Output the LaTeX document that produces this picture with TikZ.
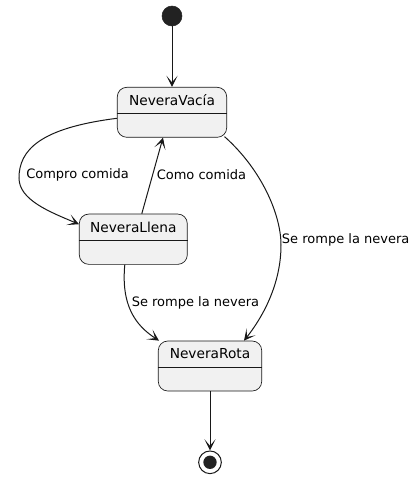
\documentclass[tikz,border=0pt]{standalone}
\usepackage{fontspec}
\setmainfont{DejaVu Sans}
\usetikzlibrary{arrows.meta,calc}
\definecolor{stfill}{HTML}{F1F1F1}
\definecolor{stline}{HTML}{181818}
\definecolor{dot}{HTML}{222222}
\begin{document}
\begin{tikzpicture}[x=0.75pt,y=-0.75pt,
  statebox/.style={draw=stline,fill=stfill,rounded corners=9.5pt*0.75,line width=0.5pt,inner sep=0pt},
  stname/.style={font=\fontsize{10.3pt}{12pt}\selectfont,text=black,inner sep=0pt},
  edgelbl/.style={font=\fontsize{9.75pt}{11pt}\selectfont,text=black,inner sep=0pt,anchor=west},
  conn/.style={draw=stline,line width=0.75pt,-{Stealth[length=8.5pt,width=8.5pt,inset=5pt]}}]
\useasboundingbox (0,0) rectangle (415,479);

% start
\node[circle,fill=dot,draw=dot,minimum size=15pt,inner sep=0pt] (start) at (172,16) {};

% states
\node[statebox,minimum width=109.4*0.75pt,minimum height=50*0.75pt] (vac) at (172,112.3) {};
\node[stname] (vact) at (172,100) {NeveraVacía};
\draw[stline,line width=0.5pt] ($(vac.west)+(0,1)$) coordinate (vl) -- ($(vac.east)+(0,1)$) coordinate (vr);

\node[statebox,minimum width=108*0.75pt,minimum height=50.3*0.75pt] (lle) at (133.3,239.2) {};
\node[stname] (llet) at (133.3,227) {NeveraLlena};
\draw[stline,line width=0.5pt] ($(lle.west)+(0,1)$) coordinate (ll) -- ($(lle.east)+(0,1)$) coordinate (lr);

\node[statebox,minimum width=103.4*0.75pt,minimum height=50*0.75pt] (rot) at (210,366) {};
\node[stname] (rott) at (210,354) {NeveraRota};
\draw[stline,line width=0.5pt] ($(rot.west)+(0,1.5)$) coordinate (rl) -- ($(rot.east)+(0,1.5)$) coordinate (rr);

% end
\node[circle,draw=stline,fill=white,line width=0.75pt,minimum size=17pt,inner sep=0pt] (fin) at (210,462.3) {};
\node[circle,fill=dot,minimum size=10pt,inner sep=0pt] (finin) at (fin.center) {};

% connectors
\draw[conn] (start) -- (vac.north);
\draw[conn] ($(vac.west)+(0,6)$) .. controls (40,128) and (19,150) .. (19,178)
  .. controls (19,200) and (50,212) .. ($(lle.west)+(0,-15)$);
\node[edgelbl] (l1) at (26,175) {Compro comida};

\draw[conn] ($(lle.north)+(8.5,0)$) -- ($(vac.south)+(-9,0)$);
\node[edgelbl] (l2) at (156.5,175) {Como comida};

\draw[conn] ($(vac.south east)+(-2.5,-1)$) .. controls (262,170) and (281,215) .. (281,245)
  .. controls (281,285) and (262,318) .. ($(rot.north)+(34,0)$);
\node[edgelbl] (l3) at (281.7,239.5) {Se rompe la nevera};

\draw[conn] ($(lle.south)+(-8.5,0)$) .. controls (121,305) and (135,325) .. ($(rot.north)+(-51,0)$);
\node[edgelbl] (l4) at (131.5,302.7) {Se rompe la nevera};

\draw[conn] (rot.south) -- (fin.north);
\end{tikzpicture}
\end{document}
